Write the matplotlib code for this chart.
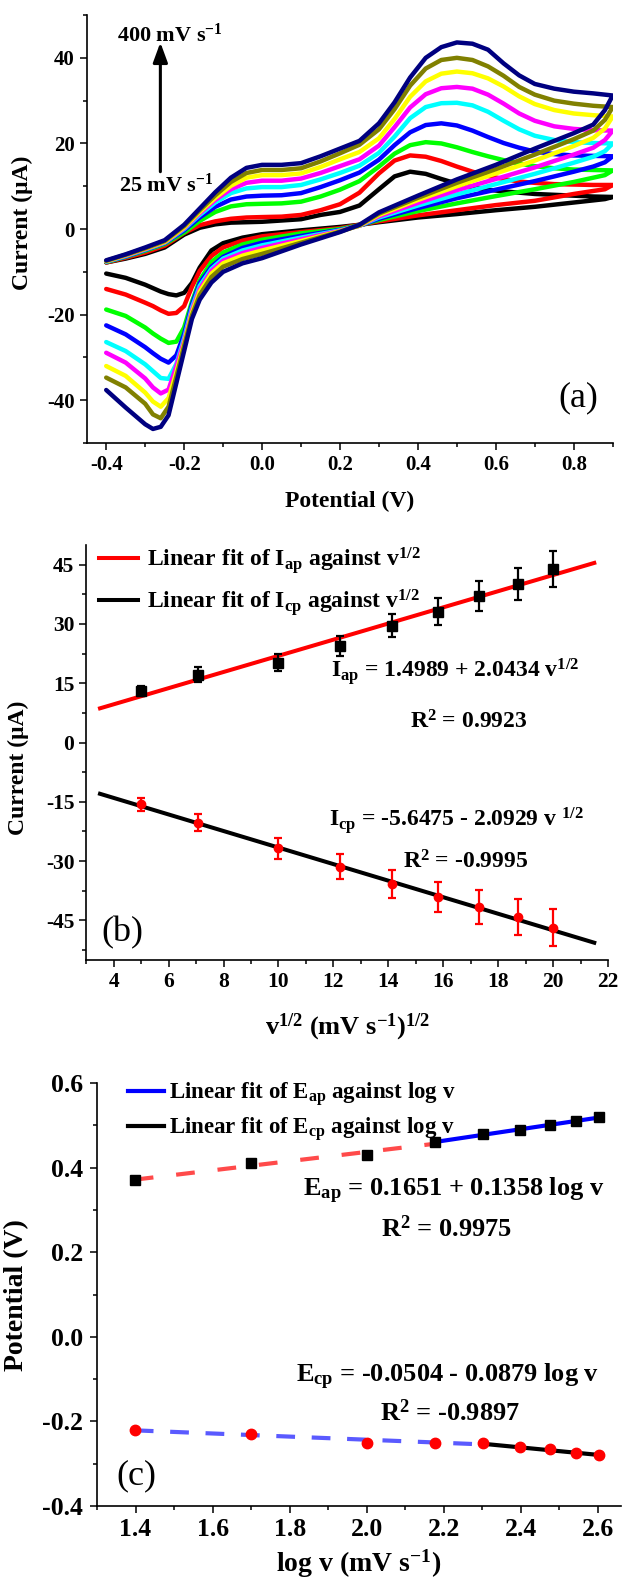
import numpy as np
import matplotlib
matplotlib.use("Agg")
import matplotlib.pyplot as plt
from matplotlib.ticker import MultipleLocator, FormatStrFormatter

plt.rcParams["font.family"] = ["Liberation Serif", "DejaVu Serif"]
plt.rcParams["font.weight"] = "bold"
plt.rcParams["axes.labelweight"] = "bold"
plt.rcParams["mathtext.fontset"] = "custom"
plt.rcParams["mathtext.rm"] = "Liberation Serif:bold"
plt.rcParams["mathtext.it"] = "Liberation Serif:bold"
plt.rcParams["mathtext.bf"] = "Liberation Serif:bold"
plt.rcParams["axes.unicode_minus"] = False

# ---------------- (a) cyclic voltammograms ----------------
scan_rates = [25, 50, 100, 150, 200, 250, 300, 350, 400]
cv_colors = ["#000000", "#ff0000", "#00ff00", "#0000ff", "#00ffff",
             "#ff00ff", "#ffff00", "#808000", "#000080"]

# forward (anodic) sweep potentials, V
E_fwd = [-0.40, -0.35, -0.30, -0.25, -0.20, -0.16, -0.12, -0.08, -0.04, 0.00,
         0.05, 0.10, 0.15, 0.20, 0.25, 0.30, 0.34, 0.38, 0.42, 0.46,
         0.50, 0.54, 0.58, 0.62, 0.66, 0.70, 0.75, 0.80, 0.85, 0.90]
# reverse (cathodic) sweep potentials, V
E_rev = [0.90, 0.88, 0.85, 0.80, 0.70, 0.60, 0.50, 0.40, 0.30, 0.25,
         0.20, 0.10, 0.00, -0.05, -0.10, -0.13, -0.16, -0.18, -0.20, -0.22,
         -0.24, -0.26, -0.28, -0.30, -0.35, -0.40]

fwd_25 = [-7.8, -6.9, -5.8, -4.3, -1.3, 0.3, 1.1, 1.5, 1.6, 1.7, 2.0, 2.3, 3.3, 4.0, 5.5,
          9.3, 12.3, 13.4, 12.9, 11.7, 10.6, 9.8, 9.2, 8.8, 8.5, 8.2, 8.0, 7.8, 7.6, 7.5]
fwd_50 = [-7.8, -6.7, -5.5, -3.9, -0.9, 0.9, 1.8, 2.4, 2.7, 2.8, 2.9, 3.3, 4.4, 5.8, 8.5,
          13.0, 16.0, 17.2, 16.9, 15.9, 14.6, 13.4, 12.4, 11.7, 11.1, 10.8, 10.5, 10.4, 10.3, 10.3]
fwd_100 = [-7.7, -6.5, -5.1, -3.5, -0.8, 1.9, 4.0, 5.3, 5.8, 5.9, 6.0, 6.4, 7.6, 9.2, 11.2,
           14.6, 17.6, 19.6, 20.3, 20.0, 19.1, 18.0, 17.0, 16.1, 15.3, 14.7, 14.2, 13.9, 13.8, 13.7]
fwd_150 = [-7.6, -6.4, -4.9, -3.3, -0.3, 2.7, 5.2, 6.9, 7.6, 7.8, 7.9, 8.4, 9.8, 11.4, 13.2,
           16.2, 19.6, 22.6, 24.3, 24.7, 24.2, 23.0, 21.5, 20.1, 19.0, 18.1, 17.5, 17.2, 17.1, 17.0]
fwd_200 = [-7.6, -6.3, -4.8, -3.2, 0.0, 3.3, 6.2, 8.4, 9.5, 9.8, 9.8, 10.3, 11.6, 13.1, 14.8,
           17.8, 21.6, 25.9, 28.5, 29.4, 29.5, 28.9, 27.4, 25.3, 23.3, 21.8, 20.8, 20.3, 20.1, 20.0]
fwd_250 = [-7.5, -6.2, -4.7, -3.1, 0.2, 3.7, 6.8, 9.3, 10.8, 11.3, 11.3, 11.8, 13.1, 14.7, 16.3,
           19.5, 23.8, 28.4, 31.5, 32.9, 33.2, 32.8, 31.4, 29.3, 27.0, 25.3, 24.0, 23.4, 23.1, 23.0]
fwd_300 = [-7.5, -6.1, -4.6, -3.0, 0.4, 4.0, 7.3, 10.1, 12.0, 12.6, 12.6, 13.0, 14.5, 16.3, 18.0,
           21.2, 25.7, 30.9, 34.5, 36.3, 36.8, 36.4, 35.2, 33.3, 31.0, 29.2, 27.8, 27.0, 26.6, 26.3]
fwd_350 = [-7.4, -6.0, -4.5, -2.8, 0.7, 4.4, 7.9, 11.0, 13.1, 13.8, 13.8, 14.2, 15.8, 17.7, 19.7,
           23.3, 28.0, 33.5, 37.5, 39.5, 40.0, 39.5, 38.0, 35.8, 33.2, 31.4, 30.0, 29.3, 28.8, 28.5]
fwd_400 = [-7.3, -5.9, -4.3, -2.6, 1.0, 4.8, 8.6, 12.0, 14.3, 15.0, 15.0, 15.4, 17.0, 18.8, 20.6,
           24.7, 29.6, 35.4, 40.0, 42.5, 43.6, 43.3, 41.9, 38.7, 35.9, 33.9, 32.8, 32.1, 31.7, 31.2]

rev_25 = [7.5, 7.0, 6.7, 6.2, 5.2, 4.4, 3.5, 2.7, 1.6, 1.0, 0.5, -0.3, -1.2, -2.0, -3.3,
          -5.0, -9.0, -12.6, -14.9, -15.5, -15.2, -14.6, -13.8, -13.0, -11.4, -10.4]
rev_50 = [10.3, 9.3, 8.9, 8.2, 6.6, 5.6, 4.4, 3.2, 1.8, 1.0, 0.2, -0.7, -1.7, -2.7, -4.3,
          -6.3, -9.8, -13.5, -18.0, -19.6, -19.8, -19.0, -18.0, -17.2, -15.3, -14.0]
rev_100 = [13.7, 12.6, 12.0, 11.0, 9.3, 7.7, 6.0, 4.2, 2.1, 0.9, 0.0, -1.0, -2.5, -3.6, -5.5,
           -7.7, -12.0, -17.0, -23.0, -26.3, -26.6, -25.6, -24.4, -23.0, -20.3, -18.8]
rev_150 = [17.0, 15.6, 14.6, 13.4, 11.2, 9.2, 7.2, 4.9, 2.4, 0.8, -0.2, -1.6, -3.2, -4.4, -6.5,
           -8.8, -12.6, -17.6, -24.5, -29.5, -31.2, -30.3, -29.0, -27.6, -24.6, -22.5]
rev_200 = [20.0, 18.2, 16.9, 15.5, 12.9, 10.5, 8.1, 5.5, 2.7, 0.8, -0.3, -2.0, -3.8, -5.0, -6.9,
           -9.3, -13.3, -18.4, -25.5, -31.5, -35.0, -34.8, -33.2, -31.6, -28.5, -26.4]
rev_250 = [23.0, 20.8, 19.0, 17.4, 14.4, 11.7, 9.1, 6.1, 3.0, 0.8, -0.4, -2.4, -4.4, -5.6, -7.4,
           -9.8, -14.0, -19.0, -26.2, -32.0, -37.5, -38.4, -37.0, -34.9, -31.2, -28.9]
rev_300 = [26.3, 23.5, 21.3, 19.4, 16.0, 13.0, 10.0, 6.8, 3.3, 0.8, -0.5, -2.8, -5.0, -6.2, -8.0,
           -10.4, -14.6, -19.6, -26.8, -33.5, -39.5, -41.5, -40.3, -38.2, -34.3, -32.0]
rev_350 = [28.5, 25.5, 23.0, 21.0, 17.4, 14.0, 10.8, 7.3, 3.6, 0.9, -0.6, -3.2, -5.8, -7.0, -8.8,
           -11.2, -15.4, -20.2, -27.3, -34.5, -41.5, -44.2, -43.3, -40.8, -37.0, -34.7]
rev_400 = [31.2, 27.8, 24.4, 22.4, 18.8, 15.0, 11.6, 7.8, 3.9, 1.0, -0.7, -3.6, -6.8, -8.0, -10.0,
           -12.5, -16.5, -21.0, -28.5, -36.0, -43.5, -46.2, -46.7, -45.6, -41.7, -37.6]

fwd_all = [fwd_25, fwd_50, fwd_100, fwd_150, fwd_200, fwd_250, fwd_300, fwd_350, fwd_400]
rev_all = [rev_25, rev_50, rev_100, rev_150, rev_200, rev_250, rev_300, rev_350, rev_400]

# ---------------- (b) peak current vs sqrt(scan rate) ----------------
sqrt_v = [5.0, 7.07, 10.0, 12.25, 14.14, 15.81, 17.32, 18.71, 20.0]
I_ap = [13.1, 17.1, 20.2, 24.5, 29.5, 33.1, 37.0, 40.1, 43.9]
I_ap_err = [1.3, 1.9, 2.1, 2.5, 2.9, 3.4, 3.8, 4.0, 4.5]
I_cp = [-15.6, -20.3, -26.8, -31.4, -35.8, -39.1, -41.6, -44.2, -46.9]
I_cp_err = [1.6, 2.1, 2.7, 3.1, 3.6, 3.9, 4.2, 4.5, 4.7]
fit_ap = (1.4989, 2.0434)      # intercept, slope
fit_cp = (-5.6475, -2.0929)
fit_range_b = [3.5, 21.5]

# ---------------- (c) peak potential vs log(scan rate) ----------------
log_v = [1.398, 1.699, 2.0, 2.176, 2.301, 2.398, 2.477, 2.544, 2.602]
E_ap = [0.37, 0.41, 0.43, 0.46, 0.48, 0.49, 0.50, 0.51, 0.52]
E_cp = [-0.22, -0.23, -0.25, -0.25, -0.25, -0.26, -0.265, -0.275, -0.28]
fit_Eap = (0.1651, 0.1358)
fit_Ecp = (-0.0504, -0.0879)
n_low_ap = 4   # points in the low-rate (dashed) anodic segment
n_low_cp = 5   # points in the low-rate (dashed) cathodic segment


def style(ax, tick_size):
    ax.spines["top"].set_visible(False)
    ax.spines["right"].set_visible(False)
    ax.spines["left"].set_linewidth(1.2)
    ax.spines["bottom"].set_linewidth(1.2)
    ax.tick_params(which="major", direction="out", length=5, width=1.1,
                   labelsize=tick_size, pad=3.5)
    ax.tick_params(which="minor", direction="out", length=3, width=1.1)
    for lab in ax.get_xticklabels() + ax.get_yticklabels():
        lab.set_fontweight("bold")


fig = plt.figure(figsize=(6.23, 15.83), dpi=100)

# ---- panel (a)
ax1 = fig.add_axes([0.1392, 0.7201, 0.8443, 0.2704])
for c, f, r in zip(cv_colors, fwd_all, rev_all):
    ax1.plot(E_fwd + E_rev, f + r, color=c, lw=3.2, solid_joinstyle="round",
             solid_capstyle="round")
ax1.set_xlim(-0.45, 0.9)
ax1.set_ylim(-50, 50)
ax1.xaxis.set_major_locator(MultipleLocator(0.2))
ax1.xaxis.set_minor_locator(MultipleLocator(0.1))
ax1.xaxis.set_major_formatter(FormatStrFormatter("%.1f"))
ax1.yaxis.set_major_locator(MultipleLocator(20))
ax1.yaxis.set_minor_locator(MultipleLocator(10))
style(ax1, 15)
ax1.set_xlabel("Potential (V)", fontsize=17)
ax1.set_ylabel("Current (\u03bcA)", fontsize=17)
ax1.xaxis.set_label_coords(0.5, -0.112)
ax1.yaxis.set_label_coords(-0.102, 0.515)
ax1.annotate("", xy=(-0.261, 43.6), xytext=(-0.261, 13.4),
             arrowprops=dict(arrowstyle="-|>,head_length=0.6,head_width=0.22",
                             color="black", lw=2.2, mutation_scale=20,
                             shrinkA=0, shrinkB=0))
ax1.text(-0.372, 45.4, "400 mV s$^{-1}$", fontsize=16, ha="left", va="center")
ax1.text(-0.368, 10.3, "25 mV s$^{-1}$", fontsize=16, ha="left", va="center")
ax1.text(0.934, 0.105, "(a)", transform=ax1.transAxes, fontsize=26,
         fontweight="normal", ha="center", va="center")

# ---- panel (b)
ax2 = fig.add_axes([0.1385, 0.3936, 0.8374, 0.2622])
xb = np.array(fit_range_b)
ax2.plot(xb, fit_ap[0] + fit_ap[1] * xb, color="red", lw=2.9,
         label="Linear fit of I$_{ap}$ against v$^{1/2}$")
ax2.plot(xb, fit_cp[0] + fit_cp[1] * xb, color="black", lw=2.9,
         label="Linear fit of I$_{cp}$ against v$^{1/2}$")
ax2.errorbar(sqrt_v, I_ap, yerr=I_ap_err, fmt="s", color="black", ms=7,
             elinewidth=1.6, capsize=3, capthick=1.6)
ax2.errorbar(sqrt_v, I_cp, yerr=I_cp_err, fmt="o", color="red", ms=6,
             elinewidth=1.6, capsize=3, capthick=1.6)
ax2.set_xlim(3, 22)
ax2.set_ylim(-55, 50)
ax2.xaxis.set_major_locator(MultipleLocator(2))
ax2.xaxis.set_minor_locator(MultipleLocator(1))
ax2.yaxis.set_major_locator(MultipleLocator(15))
ax2.yaxis.set_minor_locator(MultipleLocator(7.5))
style(ax2, 15.5)
ax2.set_xlabel("v$^{1/2}$ (mV s$^{-1}$)$^{1/2}$", fontsize=19)
ax2.set_ylabel("Current (\u03bcA)", fontsize=17)
ax2.xaxis.set_label_coords(0.5, -0.125)
ax2.yaxis.set_label_coords(-0.110, 0.464)
ax2.legend(loc="upper left", bbox_to_anchor=(0.024, 1.0), frameon=False,
           fontsize=17, handlelength=1.64, handletextpad=0.4,
           labelspacing=0.49, borderaxespad=0, borderpad=0)
ax2.text(0.707, 0.694, "I$_{ap}$ = 1.4989 + 2.0434 v$^{1/2}$", transform=ax2.transAxes,
         fontsize=17, ha="center", va="center")
ax2.text(0.732, 0.574, "R$^{2}$ = 0.9923", transform=ax2.transAxes,
         fontsize=17, ha="center", va="center")
ax2.text(0.709, 0.337, "I$_{cp}$ = -5.6475 - 2.0929 v $^{1/2}$", transform=ax2.transAxes,
         fontsize=17, ha="center", va="center")
ax2.text(0.728, 0.237, "R$^{2}$ = -0.9995", transform=ax2.transAxes,
         fontsize=17, ha="center", va="center")
ax2.text(0.070, 0.065, "(b)", transform=ax2.transAxes, fontsize=26,
         fontweight="normal", ha="center", va="center")

# ---- panel (c)
ax3 = fig.add_axes([0.1557, 0.0486, 0.8411, 0.2672])
lv = np.array(log_v)
# low scan-rate segments (dashed)
p_ap = np.polyfit(lv[:n_low_ap], E_ap[:n_low_ap], 1)
x_lo_ap = lv[[0, n_low_ap - 1]]
ax3.plot(x_lo_ap, np.polyval(p_ap, x_lo_ap), color="#ff4a4a", lw=3.0,
         dashes=(4.5, 5.5))
p_cp = np.polyfit(lv[:n_low_cp], E_cp[:n_low_cp], 1)
x_lo_cp = lv[[0, n_low_cp - 1]]
ax3.plot(x_lo_cp, np.polyval(p_cp, x_lo_cp), color="#5a5aff", lw=3.0,
         dashes=(4.5, 4.0))
# high scan-rate linear fits
x_hi_ap = lv[[n_low_ap - 1, -1]]
ax3.plot(x_hi_ap, fit_Eap[0] + fit_Eap[1] * x_hi_ap, color="#0000ff", lw=3.0,
         label="Linear fit of E$_{ap}$ against log v")
x_hi_cp = lv[[n_low_cp - 1, -1]]
ax3.plot(x_hi_cp, fit_Ecp[0] + fit_Ecp[1] * x_hi_cp, color="black", lw=3.0,
         label="Linear fit of E$_{cp}$ against log v")
ax3.plot(log_v, E_ap, "s", color="black", ms=7.5)
ax3.plot(log_v, E_cp, "o", color="red", ms=7.5)
ax3.set_xlim(1.3, 2.66)
ax3.set_ylim(-0.4, 0.6)
ax3.xaxis.set_major_locator(MultipleLocator(0.2))
ax3.xaxis.set_minor_locator(MultipleLocator(0.1))
ax3.xaxis.set_major_formatter(FormatStrFormatter("%.1f"))
ax3.yaxis.set_major_locator(MultipleLocator(0.2))
ax3.yaxis.set_minor_locator(MultipleLocator(0.1))
ax3.yaxis.set_major_formatter(FormatStrFormatter("%.1f"))
style(ax3, 18.5)
ax3.tick_params(axis="y", pad=5)
ax3.set_xlabel("log v (mV s$^{-1}$)", fontsize=20)
ax3.set_ylabel("Potential (V)", fontsize=20)
ax3.xaxis.set_label_coords(0.5, -0.099)
ax3.yaxis.set_label_coords(-0.130, 0.5)
ax3.legend(loc="upper left", bbox_to_anchor=(0.060, 1.006), frameon=False,
           fontsize=16.5, handlelength=1.54, handletextpad=0.25,
           labelspacing=0.3, borderaxespad=0, borderpad=0)
ax3.text(0.681, 0.746, "E$_{ap}$ = 0.1651 + 0.1358 log v", transform=ax3.transAxes,
         fontsize=19, ha="center", va="center")
ax3.text(0.667, 0.656, "R$^{2}$ = 0.9975", transform=ax3.transAxes,
         fontsize=19, ha="center", va="center")
ax3.text(0.668, 0.305, "E$_{cp}$ = -0.0504 - 0.0879 log v", transform=ax3.transAxes,
         fontsize=19, ha="center", va="center")
ax3.text(0.674, 0.222, "R$^{2}$ = -0.9897", transform=ax3.transAxes,
         fontsize=19, ha="center", va="center")
ax3.text(0.076, 0.071, "(c)", transform=ax3.transAxes, fontsize=26,
         fontweight="normal", ha="center", va="center")

fig.savefig("out.png", dpi=100)
